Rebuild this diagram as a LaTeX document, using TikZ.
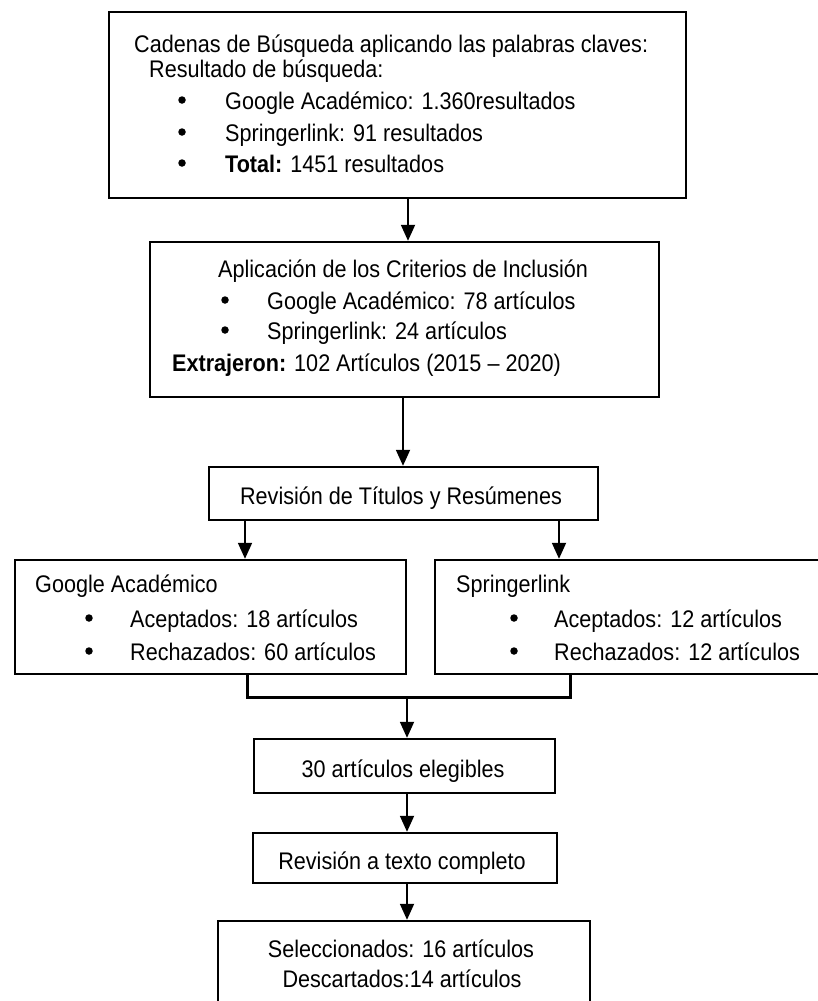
\documentclass[tikz,border=0pt]{standalone}
\usepackage{fontspec}
\setmainfont{Liberation Sans}[FakeStretch=0.9]
\usetikzlibrary{arrows.meta}

\tikzset{
	box/.style = {draw, rectangle, line width = 2.4pt, inner sep = 0pt},
	txt/.style = {anchor = base west, inner sep = 0pt, font = \fontsize{24}{28}\selectfont},
	ctxt/.style = {txt, anchor = base},
	dot/.style = {circle, fill, inner sep = 0pt, minimum size = 7.5pt, yshift = 9pt},
	arr/.style = {line width = 1.8pt, -{Triangle[width = 14pt, length = 16pt]}},
	bracketline/.style = {line width = 3pt},
}

\begin{document}
\begin{tikzpicture}[x = 1pt, y = -1pt]
	\useasboundingbox (0, 0) rectangle (818, 1001);
	\clip (0, 0) rectangle (818, 1001);
	% boxes
	\node[box, minimum width = 577pt, minimum height = 186pt] (search)   at (397.5, 105)   {};
	\node[box, minimum width = 509pt, minimum height = 155pt] (incl)     at (404.5, 319.5) {};
	\node[box, minimum width = 389pt, minimum height = 53pt]  (titles)   at (403.5, 493.5) {};
	\node[box, minimum width = 391pt, minimum height = 114pt] (google)   at (210.5, 617)   {};
	\node[box, minimum width = 400pt, minimum height = 114pt] (springer) at (635,   617)   {};
	\node[box, minimum width = 301pt, minimum height = 54pt]  (eligible) at (404.5, 766)   {};
	\node[box, minimum width = 304pt, minimum height = 50pt]  (fulltext) at (405,   858)   {};
	\node[box, minimum width = 372pt, minimum height = 109pt] (selected) at (404,   975.5) {};
	% texts of the first box
	\node[txt] (s1) at (134, 52)  {Cadenas de Búsqueda aplicando las palabras claves:};
	\node[txt] (s2) at (149, 77)  {Resultado de búsqueda:};
	\node[dot] (sb1) at (182, 109) {};
	\node[dot] (sb2) at (182, 141) {};
	\node[dot] (sb3) at (182, 172) {};
	\node[txt] (s3) at (225, 109) {Google Académico: 1.360resultados};
	\node[txt] (s4) at (225, 141) {Springerlink: 91 resultados};
	\node[txt] (s5) at (225, 172) {\textbf{Total:} 1451 resultados};
	% texts of the second box
	\node[txt] (i1) at (218, 277) {Aplicación de los Criterios de Inclusión};
	\node[dot] (ib1) at (225, 309) {};
	\node[dot] (ib2) at (225, 339) {};
	\node[txt] (i2) at (267, 309) {Google Académico: 78 artículos};
	\node[txt] (i3) at (267, 339) {Springerlink: 24 artículos};
	\node[txt] (i4) at (172, 371) {\textbf{Extrajeron:} 102 Artículos (2015 -- 2020)};
	% title and abstract review
	\node[ctxt] (t1) at (401, 504) {Revisión de Títulos y Resúmenes};
	% the two sources
	\node[txt] (g1) at (35, 592) {Google Académico};
	\node[dot] (gb1) at (89, 627) {};
	\node[dot] (gb2) at (89, 660) {};
	\node[txt] (g2) at (130, 627) {Aceptados: 18 artículos};
	\node[txt] (g3) at (130, 660) {Rechazados: 60 artículos};
	\node[txt] (p1) at (456, 592) {Springerlink};
	\node[dot] (pb1) at (514, 627) {};
	\node[dot] (pb2) at (514, 660) {};
	\node[txt] (p2) at (554, 627) {Aceptados: 12 artículos};
	\node[txt] (p3) at (554, 660) {Rechazados: 12 artículos};
	% lower boxes
	\node[ctxt] (e1) at (403, 777) {30 artículos elegibles};
	\node[ctxt] (f1) at (402, 869) {Revisión a texto completo};
	\node[ctxt] (d1) at (401, 957) {Seleccionados: 16 artículos};
	\node[ctxt] (d2) at (402, 987) {Descartados:14 artículos};
	% arrows
	\coordinate (ax1) at (408, 0);
	\coordinate (ax2) at (403, 0);
	\coordinate (ax3) at (245, 0);
	\coordinate (ax4) at (559, 0);
	\coordinate (ax5) at (407, 0);
	\draw[arr] (search.south -| ax1) -- (incl.north -| ax1);
	\draw[arr] (incl.south -| ax2)   -- (titles.north -| ax2);
	\draw[arr] (titles.south -| ax3) -- (google.north -| ax3);
	\draw[arr] (titles.south -| ax4) -- (springer.north -| ax4);
	% joining the two sources
	\coordinate (jl) at (247, 697);
	\coordinate (jr) at (570, 697);
	\draw[bracketline] (google.south -| jl) -- (jl) -- (jr) -- (springer.south -| jr);
	\draw[arr] (jl -| ax5)            -- (eligible.north -| ax5);
	\draw[arr] (eligible.south -| ax5) -- (fulltext.north -| ax5);
	\draw[arr] (fulltext.south -| ax5) -- (selected.north -| ax5);
\end{tikzpicture}
\end{document}
